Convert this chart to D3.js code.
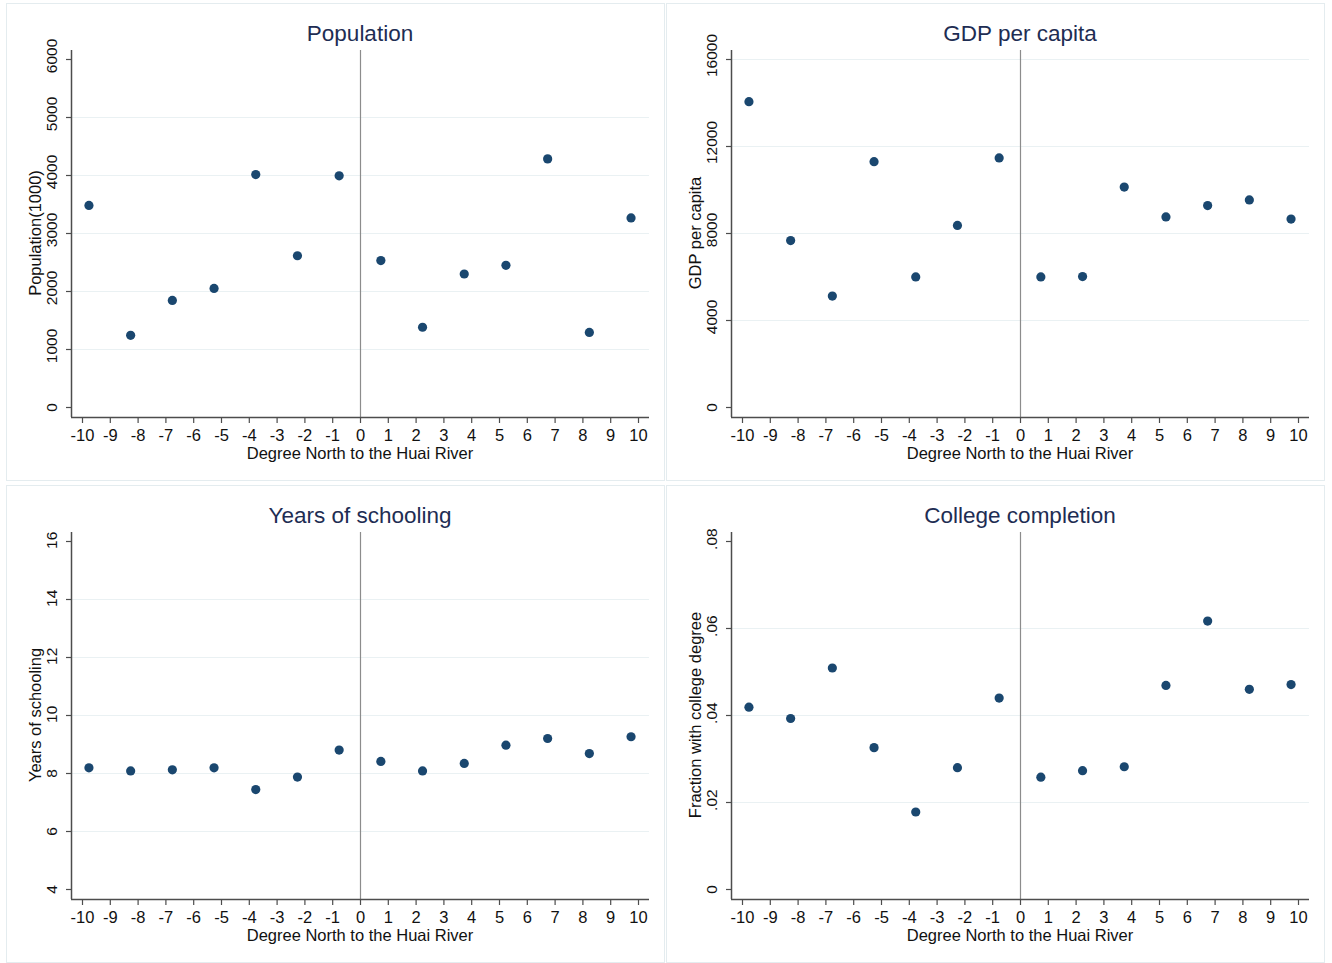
<!DOCTYPE html>
<html>
<head>
<meta charset="utf-8">
<script src="https://cdn.jsdelivr.net/npm/d3@7"></script>
<style>
  html, body { margin: 0; padding: 0; background: #ffffff; }
  svg { display: block; font-family: "Liberation Sans", Arial, Helvetica, sans-serif; }
</style>
</head>
<body>
<svg id="chart" width="1332" height="963"></svg>
<script>
// Bin midpoints: degrees north of the Huai River
const degrees = [-9.75, -8.25, -6.75, -5.25, -3.75, -2.25, -0.75, 0.75, 2.25, 3.75, 5.25, 6.75, 8.25, 9.75];
const xTicks = d3.range(-10, 11, 1);

// Outcome series by bin
const population = [3475, 1235, 1838, 2045, 4008, 2608, 3985, 2525, 1375, 2293, 2443, 4278, 1285, 3260];
const gdpPerCapita = [14040, 7650, 5100, 11280, 5980, 8350, 11450, 5980, 5995, 10110, 8740, 9260, 9520, 8640];
const schooling = [8.18, 8.07, 8.11, 8.18, 7.43, 7.86, 8.79, 8.40, 8.07, 8.33, 8.96, 9.19, 8.67, 9.25];
const college = [0.0418, 0.0392, 0.0508, 0.0325, 0.0177, 0.0279, 0.0439, 0.0257, 0.0272, 0.0281, 0.0468, 0.0616, 0.0459, 0.0470];

// Y-axis tick values and labels
const popTicks = [0, 1000, 2000, 3000, 4000, 5000, 6000];
const gdpTicks = [0, 4000, 8000, 12000, 16000];
const schoolTicks = [4, 6, 8, 10, 12, 14, 16];
const collegeTicks = [0, 0.02, 0.04, 0.06, 0.08];
const collegeLabels = ["0", ".02", ".04", ".06", ".08"];

const panels = [
  { title: "Population", yTitle: "Population(1000)", values: population, ticks: popTicks,
    labels: popTicks.map(String), col: 0, row: 0, topGrid: false },
  { title: "GDP per capita", yTitle: "GDP per capita", values: gdpPerCapita, ticks: gdpTicks,
    labels: gdpTicks.map(String), col: 1, row: 0, topGrid: true },
  { title: "Years of schooling", yTitle: "Years of schooling", values: schooling, ticks: schoolTicks,
    labels: schoolTicks.map(String), col: 0, row: 1, topGrid: false },
  { title: "College completion", yTitle: "Fraction with college degree", values: college, ticks: collegeTicks,
    labels: collegeLabels, col: 1, row: 1, topGrid: false }
];

const svg = d3.select("#chart");

const colors = {
  frame: "#e4ecef",
  grid: "#eaf1f3",
  axis: "#4d4d4d",
  zero: "#8c8c8c",
  marker: "#1a476f",
  title: "#1e2d53",
  text: "#111111"
};

const cellW = 660, cellH = 482;
const fontFamily = "Liberation Sans, Arial, sans-serif";

panels.forEach(p => {
  const g = svg.append("g")
    .attr("transform", `translate(${p.col * cellW},${p.row * cellH})`);

  // panel frame
  g.append("rect")
    .attr("x", 6.5).attr("y", 3.5)
    .attr("width", 658).attr("height", 477)
    .attr("fill", "#ffffff")
    .attr("stroke", colors.frame)
    .attr("stroke-width", 1);

  const x = d3.scaleLinear().domain([-10, 10]).range([82, 638]);
  const y = d3.scaleLinear().domain([p.ticks[0], p.ticks[p.ticks.length - 1]]).range([407, 59]);

  const plotLeft = 71, plotRight = 649, plotTop = 50, plotBottom = 417;

  // horizontal grid lines
  const gridTicks = p.ticks.slice(1, p.topGrid ? p.ticks.length : p.ticks.length - 1);
  g.append("g").selectAll("line")
    .data(gridTicks)
    .join("line")
    .attr("x1", plotLeft).attr("x2", plotRight)
    .attr("y1", d => Math.round(y(d)) + 0.5)
    .attr("y2", d => Math.round(y(d)) + 0.5)
    .attr("stroke", colors.grid)
    .attr("stroke-width", 1.2);

  // vertical line at the river
  g.append("line")
    .attr("x1", Math.round(x(0)) + 0.5).attr("x2", Math.round(x(0)) + 0.5)
    .attr("y1", plotTop).attr("y2", plotBottom)
    .attr("stroke", colors.zero)
    .attr("stroke-width", 1.2);

  // x axis (plain hyphen for negative labels)
  const xAxis = d3.axisBottom(x).tickValues(xTicks).tickSize(6).tickPadding(6)
    .tickFormat(d => String(d));
  const xa = g.append("g")
    .attr("transform", `translate(0,${plotBottom})`)
    .call(xAxis);
  xa.select(".domain").remove();
  xa.append("line")
    .attr("x1", plotLeft).attr("x2", plotRight)
    .attr("y1", 0.5).attr("y2", 0.5)
    .attr("stroke", colors.axis).attr("stroke-width", 1.5);
  xa.selectAll(".tick line").attr("stroke", colors.axis).attr("stroke-width", 1.2);
  xa.selectAll(".tick text")
    .attr("fill", colors.text)
    .attr("font-size", 16.5)
    .attr("font-family", fontFamily);

  // y axis
  const yAxis = d3.axisLeft(y).tickValues(p.ticks).tickSize(5)
    .tickFormat((d, i) => p.labels[i]);
  const ya = g.append("g")
    .attr("transform", `translate(${plotLeft},0)`)
    .call(yAxis);
  ya.select(".domain").remove();
  ya.append("line")
    .attr("x1", 0.5).attr("x2", 0.5)
    .attr("y1", plotTop).attr("y2", plotBottom)
    .attr("stroke", colors.axis).attr("stroke-width", 1.5);
  ya.selectAll(".tick line").attr("stroke", colors.axis).attr("stroke-width", 1.2);
  ya.selectAll(".tick text")
    .attr("fill", colors.text)
    .attr("font-size", 15.5)
    .attr("font-family", fontFamily)
    .attr("x", null).attr("dy", null)
    .attr("text-anchor", "middle")
    .attr("transform", (d, i) => {
      const shift = -Math.min(4, (p.labels[i].length - 1) * 1.2);
      return `translate(-14,${shift}) rotate(-90)`;
    });

  // markers
  g.append("g").selectAll("circle")
    .data(degrees.map((d, i) => ({ d, v: p.values[i] })))
    .join("circle")
    .attr("cx", d => x(d.d))
    .attr("cy", d => y(d.v))
    .attr("r", 4.6)
    .attr("fill", colors.marker);

  // panel title
  g.append("text")
    .attr("x", (plotLeft + plotRight) / 2)
    .attr("y", 41)
    .attr("text-anchor", "middle")
    .attr("font-size", 22.5)
    .attr("fill", colors.title)
    .text(p.title);

  // x axis title
  g.append("text")
    .attr("x", (plotLeft + plotRight) / 2)
    .attr("y", 459)
    .attr("text-anchor", "middle")
    .attr("font-size", 16.5)
    .attr("fill", colors.text)
    .text("Degree North to the Huai River");

  // y axis title
  g.append("text")
    .attr("transform", `translate(41,${(y.range()[0] + y.range()[1]) / 2}) rotate(-90)`)
    .attr("text-anchor", "middle")
    .attr("font-size", 16.5)
    .attr("fill", colors.text)
    .text(p.yTitle);
});
</script>
</body>
</html>
